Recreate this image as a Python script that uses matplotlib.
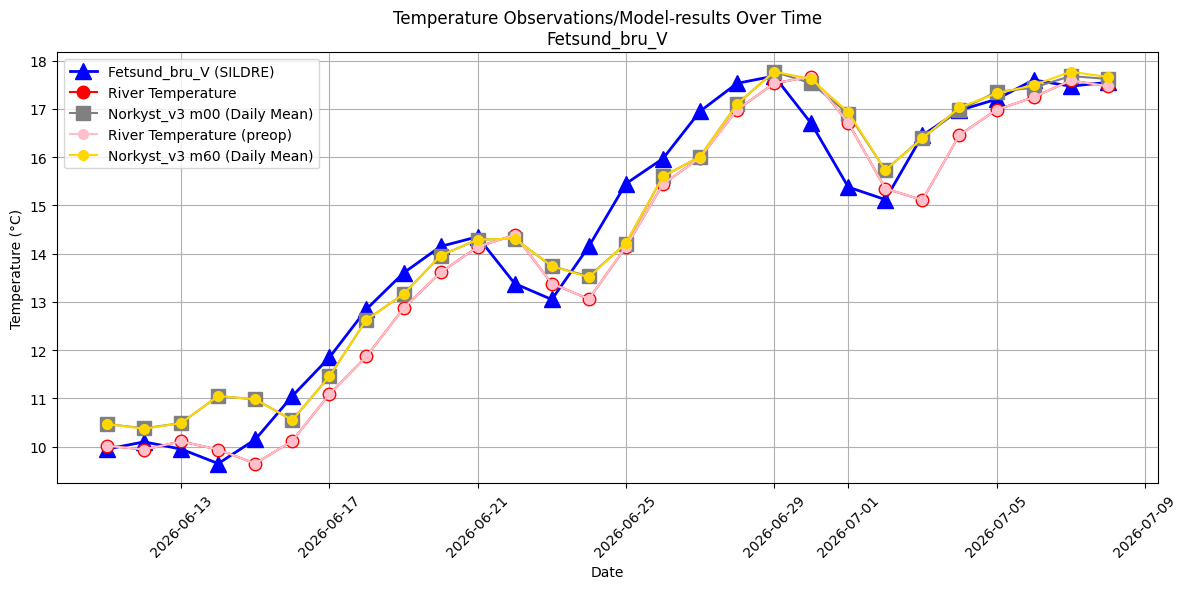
import pandas as pd
import matplotlib
matplotlib.use("Agg")
import matplotlib.pyplot as plt

dates = pd.date_range("2026-06-11", "2026-07-08", freq="D")

sildre = [9.95, 10.10, 9.95, 9.65, 10.15, 11.05, 11.85, 12.85, 13.60, 14.15,
          14.35, 13.38, 13.05, 14.15, 15.45, 15.97, 16.95, 17.53, 17.68, 16.70,
          15.38, 15.12, 16.45, 16.97, 17.20, 17.60, 17.47, 17.55]

river = [10.02, 9.94, 10.11, 9.94, 9.65, 10.12, 11.09, 11.87, 12.87, 13.61,
         14.14, 14.39, 13.38, 13.06, 14.14, 15.44, 15.99, 16.98, 17.53, 17.67,
         16.71, 15.35, 15.11, 16.46, 16.98, 17.24, 17.59, 17.47]

river_preop = list(river)

m00 = [10.47, 10.38, 10.49, 11.05, 10.98, 10.55, 11.46, 12.63, 13.16, 13.96,
       14.29, 14.31, 13.74, 13.53, 14.21, 15.60, 16.01, 17.10, 17.77, 17.53,
       16.90, 15.73, 16.40, 16.98, 17.35, 17.44, 17.68, 17.62]

m60 = [10.47, 10.37, 10.49, 11.05, 10.98, 10.55, 11.46, 12.63, 13.16, 13.96,
       14.29, 14.31, 13.74, 13.51, 14.22, 15.60, 16.01, 17.10, 17.77, 17.62,
       16.93, 15.73, 16.39, 17.03, 17.32, 17.49, 17.77, 17.66]

fig, ax = plt.subplots(figsize=(12, 6), dpi=100)

ax.plot(dates, sildre, marker="^", color="blue", linewidth=2, markersize=12,
        label="Fetsund_bru_V (SILDRE)")
ax.plot(dates, river, marker="o", color="red", linewidth=1.5, markersize=9,
        label="River Temperature")
ax.plot(dates, m00, marker="s", color="gray", linewidth=1.5, markersize=10,
        label="Norkyst_v3 m00 (Daily Mean)")
ax.plot(dates, river_preop, marker="o", color="pink", linewidth=1.5, markersize=7,
        label="River Temperature (preop)")
ax.plot(dates, m60, marker="o", color="gold", linewidth=1.5, markersize=7,
        label="Norkyst_v3 m60 (Daily Mean)")

ax.set_title("Temperature Observations/Model-results Over Time\nFetsund_bru_V")
ax.set_xlabel("Date")
ax.set_ylabel("Temperature (°C)")
ax.grid(True)
ax.legend(loc="upper left")
plt.xticks(rotation=45)
plt.tight_layout()
plt.savefig("out.png", bbox_inches="tight")
